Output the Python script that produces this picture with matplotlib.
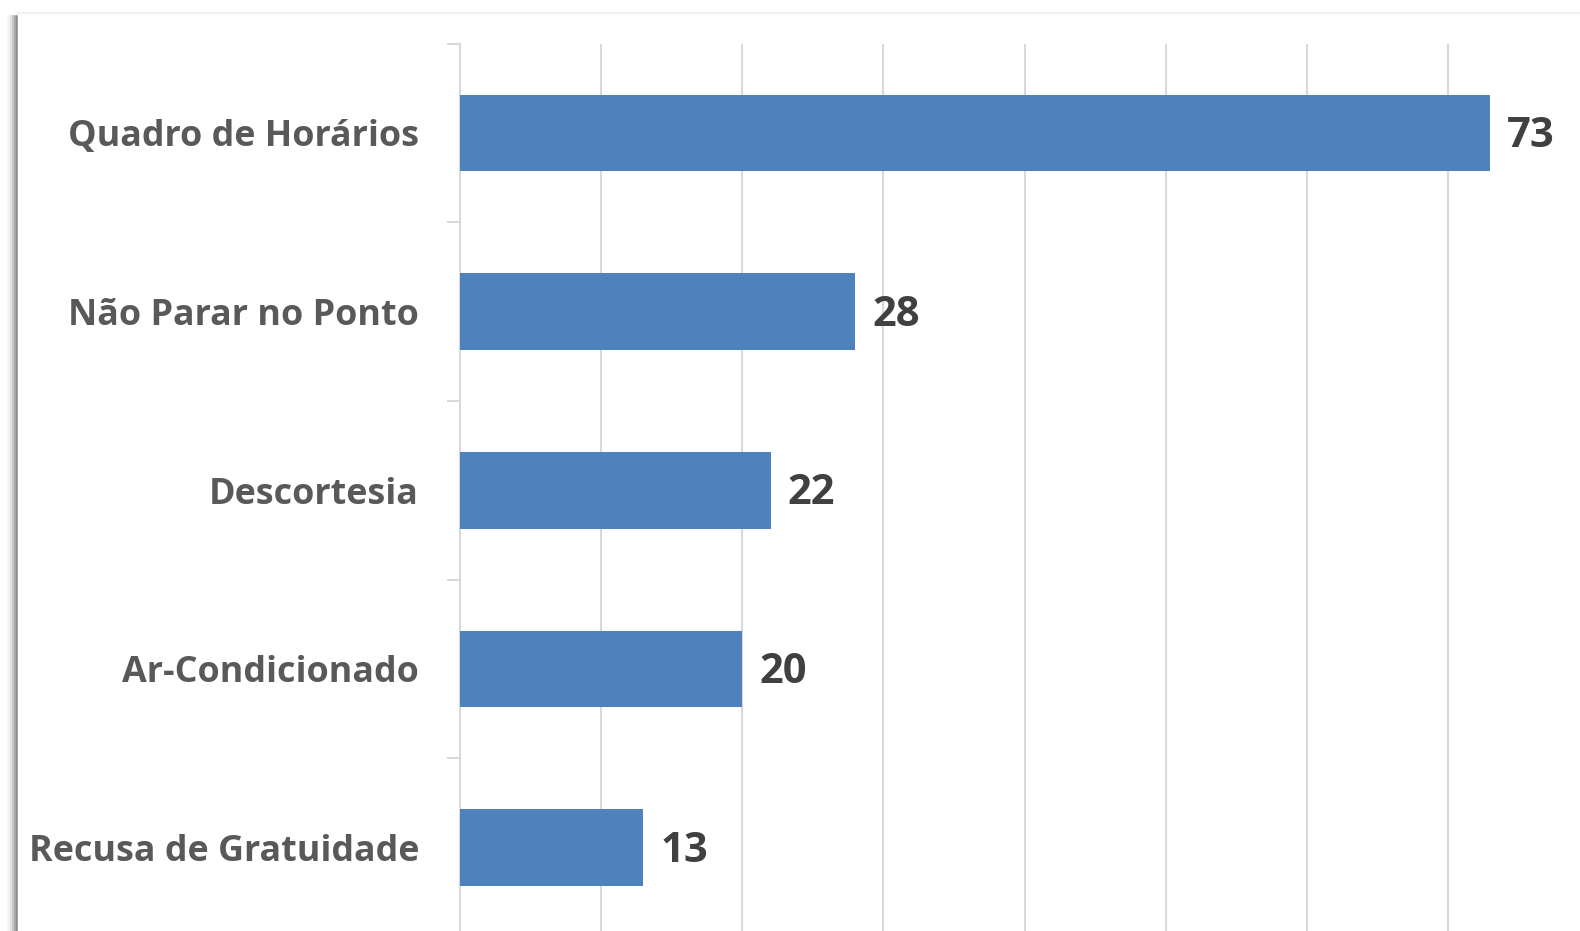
import numpy as np
import matplotlib.pyplot as plt
from matplotlib.lines import Line2D

categorias = ['Quadro de Horários', 'Não Parar no Ponto', 'Descortesia',
              'Ar-Condicionado', 'Recusa de Gratuidade']
valores = [73, 28, 22, 20, 13]

plt.rcParams['font.family'] = ['Open Sans', 'DejaVu Sans']

fig = plt.figure(figsize=(15.8, 9.31), dpi=100)
ax = fig.add_axes([460 / 1580, -6 / 931, 1 - 460 / 1580, (937 - 43.6) / 931])

y = np.arange(len(categorias))
ax.barh(y, valores, height=0.43, color='#4f81bd', zorder=3)
for yi, v in zip(y, valores):
    ax.text(v + 1.2, yi + 0.02, str(v), va='center', ha='left',
            fontsize=30, fontweight='bold', color='#404040')

ax.set_xlim(0, 79.35)
ax.set_ylim(4.5, -0.5)
ax.set_xticks(np.arange(0, 80, 10))
ax.xaxis.grid(True, color='#d9d9d9', linewidth=1.5, zorder=0)
ax.tick_params(axis='x', length=0, labelbottom=False)

ax.set_yticks(y)
ax.set_yticklabels(categorias, fontsize=25.8, fontweight='bold', color='#595959')
ax.set_yticks(np.arange(-0.5, 5, 1), minor=True)
ax.tick_params(axis='y', which='major', length=0, pad=29.5)
ax.tick_params(axis='y', which='minor', length=9.5, width=1.5, color='#d9d9d9')

for s in ['top', 'right', 'bottom']:
    ax.spines[s].set_visible(False)
ax.spines['left'].set_color('#d9d9d9')
ax.spines['left'].set_linewidth(1.5)

# frame of the original picture
fig.add_artist(Line2D([18 / 1580, 1], [1 - 13 / 931] * 2, color='#f0f0f0', lw=1.5))
for off, c in [(0, '#8c8c8c'), (2, '#a8a8a8'), (4, '#c8c8c8'), (6, '#e2e2e2'), (8, '#f2f2f2')]:
    fig.add_artist(Line2D([(16 - off) / 1580] * 2, [0, 1 - 16 / 931], color=c, lw=1.8))

plt.savefig('out.png', dpi=100)
